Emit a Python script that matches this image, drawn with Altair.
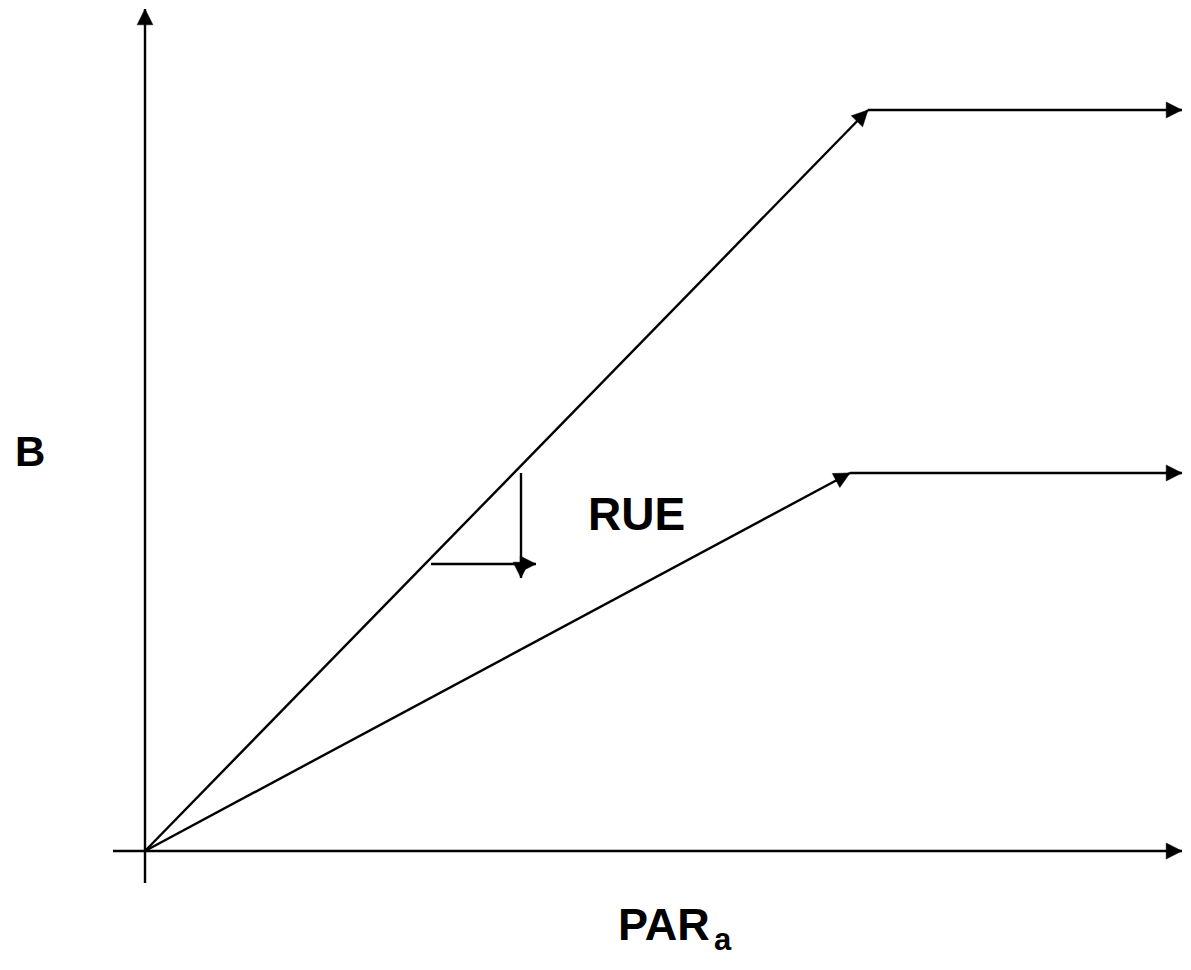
import math
import altair as alt
import pandas as pd

# Schematic: biomass (B) vs absorbed PAR (PARa), two RUE lines with plateaus
seg_name = ["x_axis", "y_axis", "high_rise", "high_plateau", "low_rise", "low_plateau", "rue_down", "rue_across"]
seg_x0 = [-0.32, 0.0, 0.0, 7.23, 0.0, 7.05, 3.76, 2.86]
seg_y0 = [0.0, -0.32, 0.0, 7.41, 0.0, 3.78, 3.78, 2.87]
seg_x1 = [10.37, 0.0, 7.23, 10.37, 7.05, 10.37, 3.76, 3.91]
seg_y1 = [0.0, 8.42, 7.41, 7.41, 3.78, 3.78, 2.73, 2.87]
seg_arrow = [True, True, True, True, True, True, True, True]

label_text = ["B", "RUE", "PAR", "a"]
label_x = [-1.30, 4.43, 4.73, 5.69]
label_y = [3.85, 3.21, -0.89, -0.99]
label_size = [42, 46, 45, 31]

X_DOMAIN = [-1.37, 10.38]
Y_DOMAIN = [-1.07, 8.43]

segs = pd.DataFrame({
    "name": seg_name, "x": seg_x0, "y": seg_y0, "x2": seg_x1, "y2": seg_y1, "arrow": seg_arrow,
})
segs["angle"] = [
    (math.degrees(math.atan2(x1 - x0, y1 - y0)) + 360) % 360
    for x0, y0, x1, y1 in zip(seg_x0, seg_y0, seg_x1, seg_y1)
]
heads = segs[segs["arrow"]]

labels = pd.DataFrame({"text": label_text, "x": label_x, "y": label_y, "size": label_size})

xs = alt.Scale(domain=X_DOMAIN, nice=False, zero=False)
ys = alt.Scale(domain=Y_DOMAIN, nice=False, zero=False)

lines = alt.Chart(segs).mark_rule(color="black", strokeWidth=2.4).encode(
    x=alt.X("x:Q", scale=xs, axis=None),
    y=alt.Y("y:Q", scale=ys, axis=None),
    x2="x2:Q",
    y2="y2:Q",
)

arrow_path = "M0,0L-0.5,1L0.5,1Z"
arrows = alt.Chart(heads).mark_point(
    shape=arrow_path, filled=True, fill="black", stroke="black", strokeWidth=0.5,
    size=1000, opacity=1,
).encode(
    x=alt.X("x2:Q", scale=xs, axis=None),
    y=alt.Y("y2:Q", scale=ys, axis=None),
    angle=alt.Angle("angle:Q", scale=None),
)

texts = alt.Chart(labels).mark_text(
    font="Liberation Sans", fontWeight="bold", color="black", align="left", baseline="alphabetic",
).encode(
    x=alt.X("x:Q", scale=xs, axis=None),
    y=alt.Y("y:Q", scale=ys, axis=None),
    text="text:N",
    size=alt.Size("size:Q", scale=None),
)

chart = alt.layer(lines, arrows, texts).properties(
    width=1175, height=950, padding=0,
    autosize=alt.AutoSizeParams(type="none"),
).configure_view(stroke=None)

chart.save("out.html", embed_options={"renderer": "svg", "actions": False})
